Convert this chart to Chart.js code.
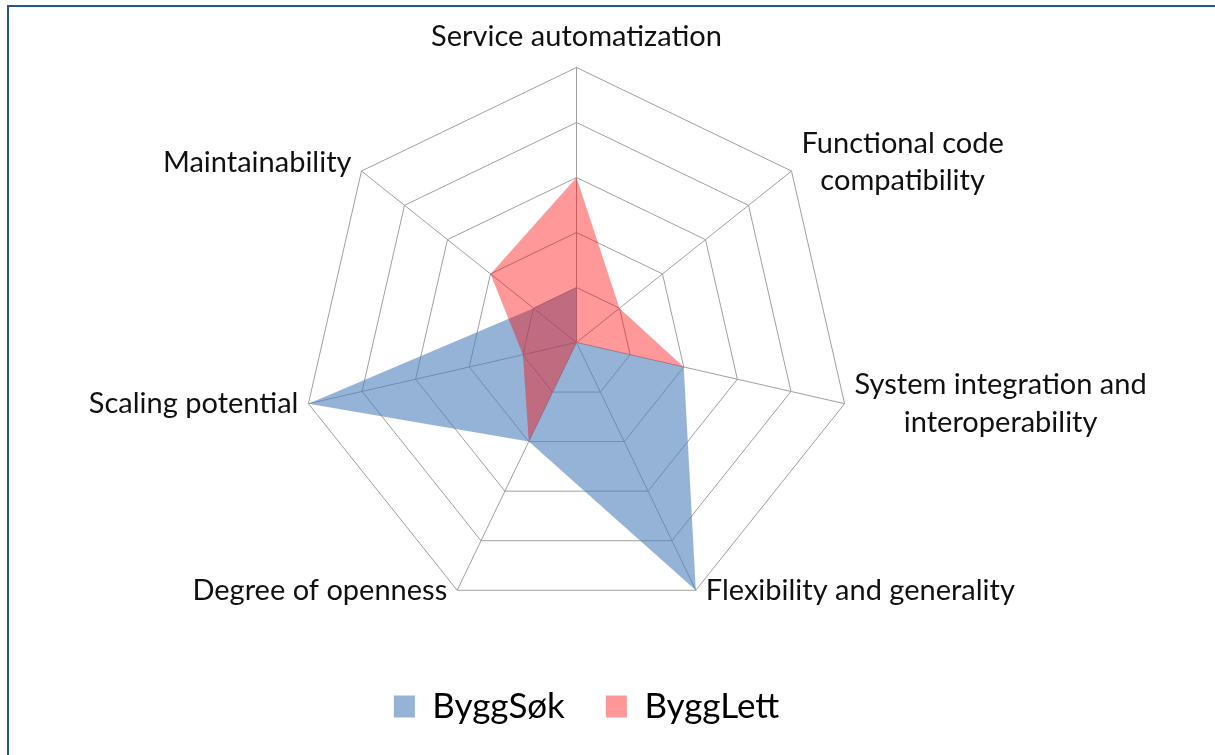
<!DOCTYPE html>
<html>
<head>
<meta charset="utf-8">
<title>ByggSøk vs ByggLett</title>
<script src="https://cdn.jsdelivr.net/npm/chart.js@4.4.0/dist/chart.umd.min.js"></script>
<style>
  html, body { margin: 0; padding: 0; background: #fff; overflow: hidden; }
  #wrap { position: relative; width: 1215px; height: 755px; }
  #frame {
    position: absolute; left: 7px; top: 5px; right: 0; bottom: 0;
    border-top: 2px solid #2b5592; border-left: 2px solid #2b5592;
  }
  #chartBox { position: absolute; left: 0; top: 0; width: 1215px; height: 755px; }
</style>
</head>
<body>
<div id="wrap">
  <div id="frame"></div>
  <div id="chartBox"><canvas id="radarChart"></canvas></div>
</div>
<script>
// axis names, clockwise from the top
const categories = [
  'Service automatization',
  ['Functional code', 'compatibility'],
  ['System integration and', 'interoperability'],
  'Flexibility and generality',
  'Degree of openness',
  'Scaling potential',
  'Maintainability'
];
const seriesNames = ['ByggSøk', 'ByggLett'];
const byggSokValues = [1, 0, 2, 5, 2, 5, 1];
const byggLettValues = [3, 1, 2, 0, 2, 1, 2];
const scaleMin = 0;
const scaleMax = 5;
const scaleStep = 1;

const labelFont = { family: 'Lato', size: 29, lineHeight: 1.28 };

// fixed plot geometry like the original sheet
function setGeometry(scale) {
  scale.xCenter = 576.5;
  scale.yCenter = 342.5;
  scale.drawingArea = 275;
}

// put the axis names next to the outer corners, lines centred like Excel
function placeLabels(scale) {
  const items = scale._pointLabelItems;
  if (!items) return;
  items.forEach((item, i) => {
    const w = item.right - item.left;
    const h = item.bottom - item.top;
    const corner = scale.getPointPosition(i, scale.drawingArea);
    const angle = scale.getIndexAngle(i);
    const sin = Math.sin(angle);
    const cos = Math.cos(angle);
    let x, y;
    if (Math.abs(sin) < 0.01) {
      x = corner.x;
      y = corner.y - 12 - h;
    } else {
      x = corner.x + Math.sign(sin) * (10 + w / 2);
      y = corner.y + Math.min(0, -cos) * 14 - h / 2;
    }
    item.textAlign = 'center';
    item.x = x;
    item.y = y;
    item.left = x - w / 2;
    item.right = x + w / 2;
    item.top = y;
    item.bottom = y + h;
  });
}

const ctx = document.getElementById('radarChart').getContext('2d');
const radarChart = new Chart(ctx, {
  type: 'radar',
  data: {
    labels: categories,
    datasets: [{
      label: seriesNames[0],
      data: byggSokValues,
      backgroundColor: 'rgba(79, 129, 189, 0.6)',
      borderColor: 'transparent',
      borderWidth: 0,
      fill: true,
      order: 1
    }, {
      label: seriesNames[1],
      data: byggLettValues,
      backgroundColor: 'rgba(255, 0, 0, 0.4)',
      borderColor: 'transparent',
      borderWidth: 0,
      fill: true,
      order: 0
    }]
  },
  options: {
    responsive: true,
    maintainAspectRatio: false,
    animation: false,
    layout: { padding: { right: 42, bottom: 21 } },
    elements: {
      point: { radius: 0, hoverRadius: 0 },
      line: { tension: 0 }
    },
    plugins: {
      tooltip: { enabled: false },
      legend: {
        position: 'bottom',
        reverse: true,
        labels: {
          boxWidth: 21,
          boxHeight: 22,
          padding: 41,
          color: '#000',
          font: { family: 'Lato', size: 35 }
        }
      }
    },
    scales: {
      r: {
        min: scaleMin,
        max: scaleMax,
        ticks: { display: false, stepSize: scaleStep },
        grid: { color: '#9f9f9f', lineWidth: 1 },
        angleLines: { color: '#9f9f9f', lineWidth: 1 },
        pointLabels: { font: labelFont, color: '#111', padding: 5 },
        afterSetDimensions: setGeometry,
        afterFit: placeLabels
      }
    }
  }
});
</script>
</body>
</html>
